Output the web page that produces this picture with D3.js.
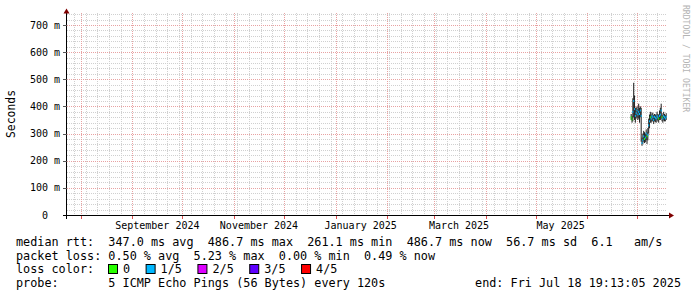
<!DOCTYPE html>
<html>
<head>
<meta charset="utf-8">
<script src="https://cdn.jsdelivr.net/npm/d3@7"></script>
<style>
html, body { margin: 0; padding: 0; background: #fff; }
svg { display: block; font-family: "DejaVu Sans Mono", monospace; }
</style>
</head>
<body>
<svg class="chart" width="697" height="297"></svg>
<script>
/** DATA **/
// graph window: last 360 days up to the probe end stamp
let endTime = new Date(2025, 6, 18, 19, 13, 5);
let spanDays = 360;

// 12h samples starting Jun 27 2025
let sampleStart = new Date(2025, 5, 27, 0, 0, 0);
let medianMs = [360, 352, 380, 420, 390, 365, 375, 385, 370, 380, 372, 385, 365, 265, 275,
	290, 280, 285, 300, 290, 295, 330, 345, 360, 355, 365, 360, 350, 362, 358,
	355, 365, 360, 355, 365, 370, 385, 360, 355, 365, 360, 355, 362];
let lowMs = [350, 340, 345, 360, 350, 340, 355, 360, 350, 355, 340, 360, 270, 255, 262,
	270, 265, 268, 275, 262, 275, 300, 320, 340, 340, 345, 345, 335, 345, 342,
	340, 350, 345, 340, 350, 350, 355, 345, 340, 348, 345, 345, 350];
let highMs = [372, 365, 430, 487, 440, 395, 395, 400, 390, 410, 395, 400, 395, 285, 300,
	310, 305, 300, 315, 305, 320, 355, 370, 380, 370, 378, 375, 368, 372, 370,
	370, 380, 372, 370, 385, 395, 410, 375, 368, 380, 372, 368, 375];
// index into lossColors
let lossIdx = [0, 0, 1, 1, 1, 1, 1, 1, 1, 1, 1, 1, 1, 1, 1,
	1, 0, 1, 1, 0, 1, 1, 1, 0, 1, 1, 1, 1, 1, 1,
	1, 1, 1, 0, 1, 1, 1, 0, 1, 1, 1, 1, 1];

let yMax = 744;
let yTicks = [0, 100, 200, 300, 400, 500, 600, 700];
let labelMonths = [new Date(2024, 8, 1), new Date(2024, 10, 1), new Date(2025, 0, 1),
	new Date(2025, 2, 1), new Date(2025, 4, 1)];

let lossLabels = ['0', '1/5', '2/5', '3/5', '4/5'];
let lossColors = ['#26ff00', '#00b8ff', '#dd00ff', '#5e00ff', '#ff0000'];

let legendRtt = 'median rtt:  347.0 ms avg  486.7 ms max  261.1 ms min  486.7 ms now  56.7 ms sd  6.1   am/s';
let legendLoss = 'packet loss: 0.50 % avg  5.23 % max  0.00 % min  0.49 % now';
let legendProbe = 'probe:       5 ICMP Echo Pings (56 Bytes) every 120s';
let legendEnd = 'end: Fri Jul 18 19:13:05 2025';

/** CONSTANTS **/
let plot = { left: 67, right: 667, top: 13, bottom: 215 };
let startTime = d3.timeDay.offset(endTime, -spanDays);

let x = d3.scaleTime().domain([startTime, endTime]).range([plot.left, plot.right]);
let y = d3.scaleLinear().domain([0, yMax]).range([plot.bottom, plot.top]);

let gridColor = '#d0d0d0';
let mgridColor = '#e8a2a2';
let arrowColor = '#7f0000';

let svg = d3.select('.chart');

// keep runs of spaces in svg text
function keepSpaces(s) {
	return s.replace(/ /g, '\u00a0');
}

/** GRID **/
let grid = svg.append('g').attr('class', 'grid');

// minor horizontal every 20 m
grid.selectAll('.hminor')
	.data(d3.range(20, yMax, 20).filter(function(v) { return v % 100 !== 0; }))
	.enter().append('line')
	.attr('x1', plot.left).attr('x2', plot.right)
	.attr('y1', function(d) { return Math.round(y(d)) + 0.5; })
	.attr('y2', function(d) { return Math.round(y(d)) + 0.5; })
	.attr('stroke', gridColor).attr('stroke-dasharray', '1,1');

// minor vertical, weekly
let weeks = d3.timeSunday.range(startTime, endTime);
grid.selectAll('.vminor')
	.data(weeks)
	.enter().append('line')
	.attr('x1', function(d) { return Math.round(x(d)) + 0.5; })
	.attr('x2', function(d) { return Math.round(x(d)) + 0.5; })
	.attr('y1', plot.top).attr('y2', plot.bottom + 2)
	.attr('stroke', gridColor).attr('stroke-dasharray', '1,1');

// major horizontal every 100 m
grid.selectAll('.hmajor')
	.data(yTicks.filter(function(v) { return v > 0; }))
	.enter().append('line')
	.attr('x1', plot.left).attr('x2', plot.right)
	.attr('y1', function(d) { return Math.round(y(d)) + 0.5; })
	.attr('y2', function(d) { return Math.round(y(d)) + 0.5; })
	.attr('stroke', mgridColor).attr('stroke-dasharray', '1,1');

// major vertical, monthly
let months = d3.timeMonth.range(startTime, endTime);
grid.selectAll('.vmajor')
	.data(months)
	.enter().append('line')
	.attr('x1', function(d) { return Math.round(x(d)) + 0.5; })
	.attr('x2', function(d) { return Math.round(x(d)) + 0.5; })
	.attr('y1', plot.top).attr('y2', plot.bottom)
	.attr('stroke', mgridColor).attr('stroke-dasharray', '1,1');

// month ticks below the axis
grid.selectAll('.vtick')
	.data(months)
	.enter().append('line')
	.attr('x1', function(d) { return Math.round(x(d)) + 0.5; })
	.attr('x2', function(d) { return Math.round(x(d)) + 0.5; })
	.attr('y1', plot.bottom).attr('y2', plot.bottom + 4)
	.attr('stroke', '#de5050');

/** DATA MARKS **/
let samples = medianMs.map(function(m, i) {
	return {
		t0: d3.timeHour.offset(sampleStart, 12 * i),
		t1: d3.timeHour.offset(sampleStart, 12 * (i + 1)),
		med: m, lo: lowMs[i], hi: highMs[i], loss: lossIdx[i]
	};
});

let marks = svg.append('g').attr('class', 'marks');

// smoke
marks.selectAll('.smoke')
	.data(samples)
	.enter().append('rect')
	.attr('x', function(d) { return x(d.t0); })
	.attr('width', function(d) { return x(d.t1) - x(d.t0) + 0.2; })
	.attr('y', function(d) { return y(d.hi); })
	.attr('height', function(d) { return y(d.lo) - y(d.hi); })
	.attr('fill', '#262626');

// median band coloured by loss
marks.selectAll('.median')
	.data(samples)
	.enter().append('rect')
	.attr('x', function(d) { return x(d.t0); })
	.attr('width', function(d) { return x(d.t1) - x(d.t0) + 0.2; })
	.attr('y', function(d) { return y(d.med) - 1; })
	.attr('height', 2)
	.attr('fill', function(d) { return lossColors[d.loss]; });

/** AXES **/
let axes = svg.append('g').attr('class', 'axes');

axes.append('line')
	.attr('x1', plot.left - 4).attr('x2', plot.right + 3)
	.attr('y1', plot.bottom + 0.5).attr('y2', plot.bottom + 0.5)
	.attr('stroke', '#000');
axes.append('line')
	.attr('x1', plot.left - 0.5).attr('x2', plot.left - 0.5)
	.attr('y1', plot.bottom + 4).attr('y2', plot.top)
	.attr('stroke', '#000');

// arrows
axes.append('path')
	.attr('d', 'M' + (plot.right + 2) + ',' + (plot.bottom - 2.5) + 'L' + (plot.right + 7) + ',' + (plot.bottom + 0.5) +
		'L' + (plot.right + 2) + ',' + (plot.bottom + 3.5) + 'Z')
	.attr('fill', arrowColor);
axes.append('path')
	.attr('d', 'M' + (plot.left - 3.5) + ',' + (plot.top + 0.5) + 'L' + (plot.left - 0.5) + ',' + (plot.top - 4.5) +
		'L' + (plot.left + 2.5) + ',' + (plot.top + 0.5) + 'Z')
	.attr('fill', arrowColor);

// y ticks + labels
axes.selectAll('.ytick')
	.data(yTicks.filter(function(v) { return v > 0; }))
	.enter().append('line')
	.attr('x1', plot.left - 4).attr('x2', plot.left)
	.attr('y1', function(d) { return Math.round(y(d)) + 0.5; })
	.attr('y2', function(d) { return Math.round(y(d)) + 0.5; })
	.attr('stroke', '#555');

axes.selectAll('.ylabel')
	.data(yTicks)
	.enter().append('text')
	.attr('x', 60)
	.attr('y', function(d) { return y(d) + 3.6; })
	.attr('text-anchor', 'end')
	.style('font-size', '10px')
	.text(function(d) { return keepSpaces(d === 0 ? '0  ' : d + ' m'); });

// x labels, centred half a month in
let monthFmt = d3.timeFormat('%B %Y');
axes.selectAll('.xlabel')
	.data(labelMonths)
	.enter().append('text')
	.attr('x', function(d) { return x(d3.timeDay.offset(d, 15)); })
	.attr('y', 228.6)
	.attr('text-anchor', 'middle')
	.style('font-size', '10px')
	.text(function(d) { return monthFmt(d); });

// vertical title
svg.append('text')
	.attr('transform', 'translate(15,114) rotate(-90)')
	.attr('text-anchor', 'middle')
	.style('font-size', '11.4px')
	.text('Seconds');

// watermark
svg.append('text')
	.attr('transform', 'translate(683,5) rotate(90)')
	.style('font-size', '8.1px')
	.attr('fill', '#b4b4b4')
	.text('RRDTOOL / TOBI OETIKER');

/** LEGEND **/
let legend = svg.append('g')
	.attr('class', 'legend')
	.style('font-size', '11.8px');

legend.append('text').attr('x', 16).attr('y', 246).text(keepSpaces(legendRtt));
legend.append('text').attr('x', 16).attr('y', 259.5).text(keepSpaces(legendLoss));
legend.append('text').attr('x', 16).attr('y', 273.3).text('loss color:');
legend.append('text').attr('x', 16).attr('y', 287).text(keepSpaces(legendProbe));
legend.append('text').attr('x', 681).attr('y', 287).attr('text-anchor', 'end').text(keepSpaces(legendEnd));

// loss colour swatches laid out one after another
let bx = 108.5;
lossLabels.forEach(function(lab, i) {
	legend.append('rect')
		.attr('x', bx).attr('y', 264.5)
		.attr('width', 9).attr('height', 9)
		.attr('fill', lossColors[i])
		.attr('stroke', '#000');
	let t = legend.append('text')
		.attr('x', bx + 14.5).attr('y', 273.3)
		.text(lab);
	bx = bx + 14.5 + t.node().getComputedTextLength() + 16;
});
</script>
</body>
</html>
